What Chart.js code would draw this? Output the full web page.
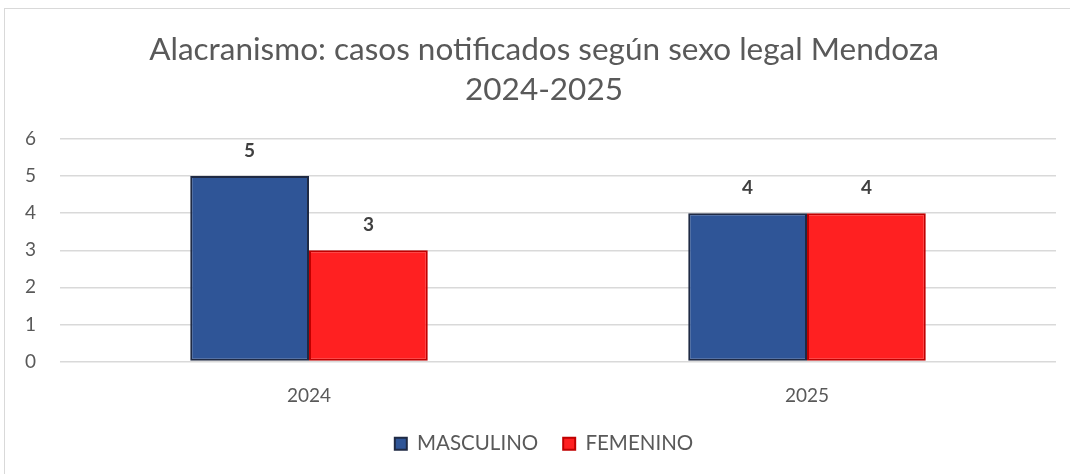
<!DOCTYPE html>
<html>
<head>
<meta charset="utf-8">
<script src="https://cdn.jsdelivr.net/npm/chart.js@4"></script>
<style>
  html, body { margin: 0; padding: 0; background: #fff; overflow: hidden; width: 1070px; height: 474px; }
  #frame { position: absolute; left: 4px; top: 8px; width: 1080px; height: 480px; border: 1.5px solid #d9d9d9; box-sizing: border-box; }
  #wrap { position: absolute; left: 0; top: 0; width: 1088px; height: 474px; }
</style>
</head>
<body>
<div id="frame"></div>
<div id="wrap"><canvas id="chart"></canvas></div>
<script>
const years = ['2024', '2025'];
const masculino = [5, 4];
const femenino = [3, 4];
const yTicks = [0, 1, 2, 3, 4, 5, 6];

const FONT = 'Lato, "Open Sans", sans-serif';

// numbers above each bar
const barLabels = {
  id: 'barLabels',
  afterDatasetsDraw(chart) {
    const ctx = chart.ctx;
    ctx.save();
    ctx.font = 'bold 19px ' + FONT;
    ctx.fillStyle = '#404040';
    ctx.textAlign = 'center';
    ctx.textBaseline = 'middle';
    chart.data.datasets.forEach((ds, i) => {
      chart.getDatasetMeta(i).data.forEach((bar, j) => {
        ctx.fillText(ds.data[j], bar.x, bar.y - 25);
      });
    });
    ctx.restore();
  }
};

new Chart(document.getElementById('chart'), {
  type: 'bar',
  data: {
    labels: years,
    datasets: [{
      label: 'MASCULINO',
      data: masculino,
      backgroundColor: '#2f5597',
      borderColor: '#1f2a44',
      borderWidth: 2,
      borderSkipped: false
    }, {
      label: 'FEMENINO',
      data: femenino,
      backgroundColor: '#ff2021',
      borderColor: '#c00000',
      borderWidth: 2,
      borderSkipped: false
    }]
  },
  options: {
    responsive: true,
    maintainAspectRatio: false,
    animation: false,
    datasets: { bar: { categoryPercentage: 0.477, barPercentage: 1 } },
    layout: { padding: { top: 10, right: 0, bottom: 10, left: 0 } },
    scales: {
      x: {
        afterFit(scale) { scale.height = 47; },
        grid: { display: false, drawTicks: false },
        border: { display: false },
        ticks: { color: '#595959', font: { family: FONT, size: 19 }, padding: 23 }
      },
      y: {
        min: 0,
        max: 6,
        afterBuildTicks(scale) { scale.ticks = yTicks.map(v => ({ value: v })); },
        afterFit(scale) { scale.width = 60; },
        grid: { color: '#d9d9d9', lineWidth: 1.5, drawTicks: false },
        border: { display: false },
        ticks: { color: '#595959', font: { family: FONT, size: 19 }, padding: 24 }
      },
      // empty right-hand axis, only keeps the plot away from the right edge
      y2: {
        position: 'right',
        afterFit(scale) { scale.width = 32; },
        grid: { display: false },
        border: { display: false },
        ticks: { display: false }
      }
    },
    plugins: {
      title: {
        display: true,
        text: ['Alacranismo: casos notificados según sexo legal Mendoza', '2024-2025'],
        color: '#595959',
        font: { family: FONT, size: 31.5, weight: 'normal', lineHeight: 1.27 },
        padding: { top: 20, bottom: 29 }
      },
      legend: {
        position: 'bottom',
        labels: {
          color: '#595959',
          font: { family: FONT, size: 20.5 },
          boxWidth: 12,
          boxHeight: 12,
          padding: 25
        }
      },
      tooltip: { enabled: false }
    }
  },
  plugins: [barLabels]
});
</script>
</body>
</html>
